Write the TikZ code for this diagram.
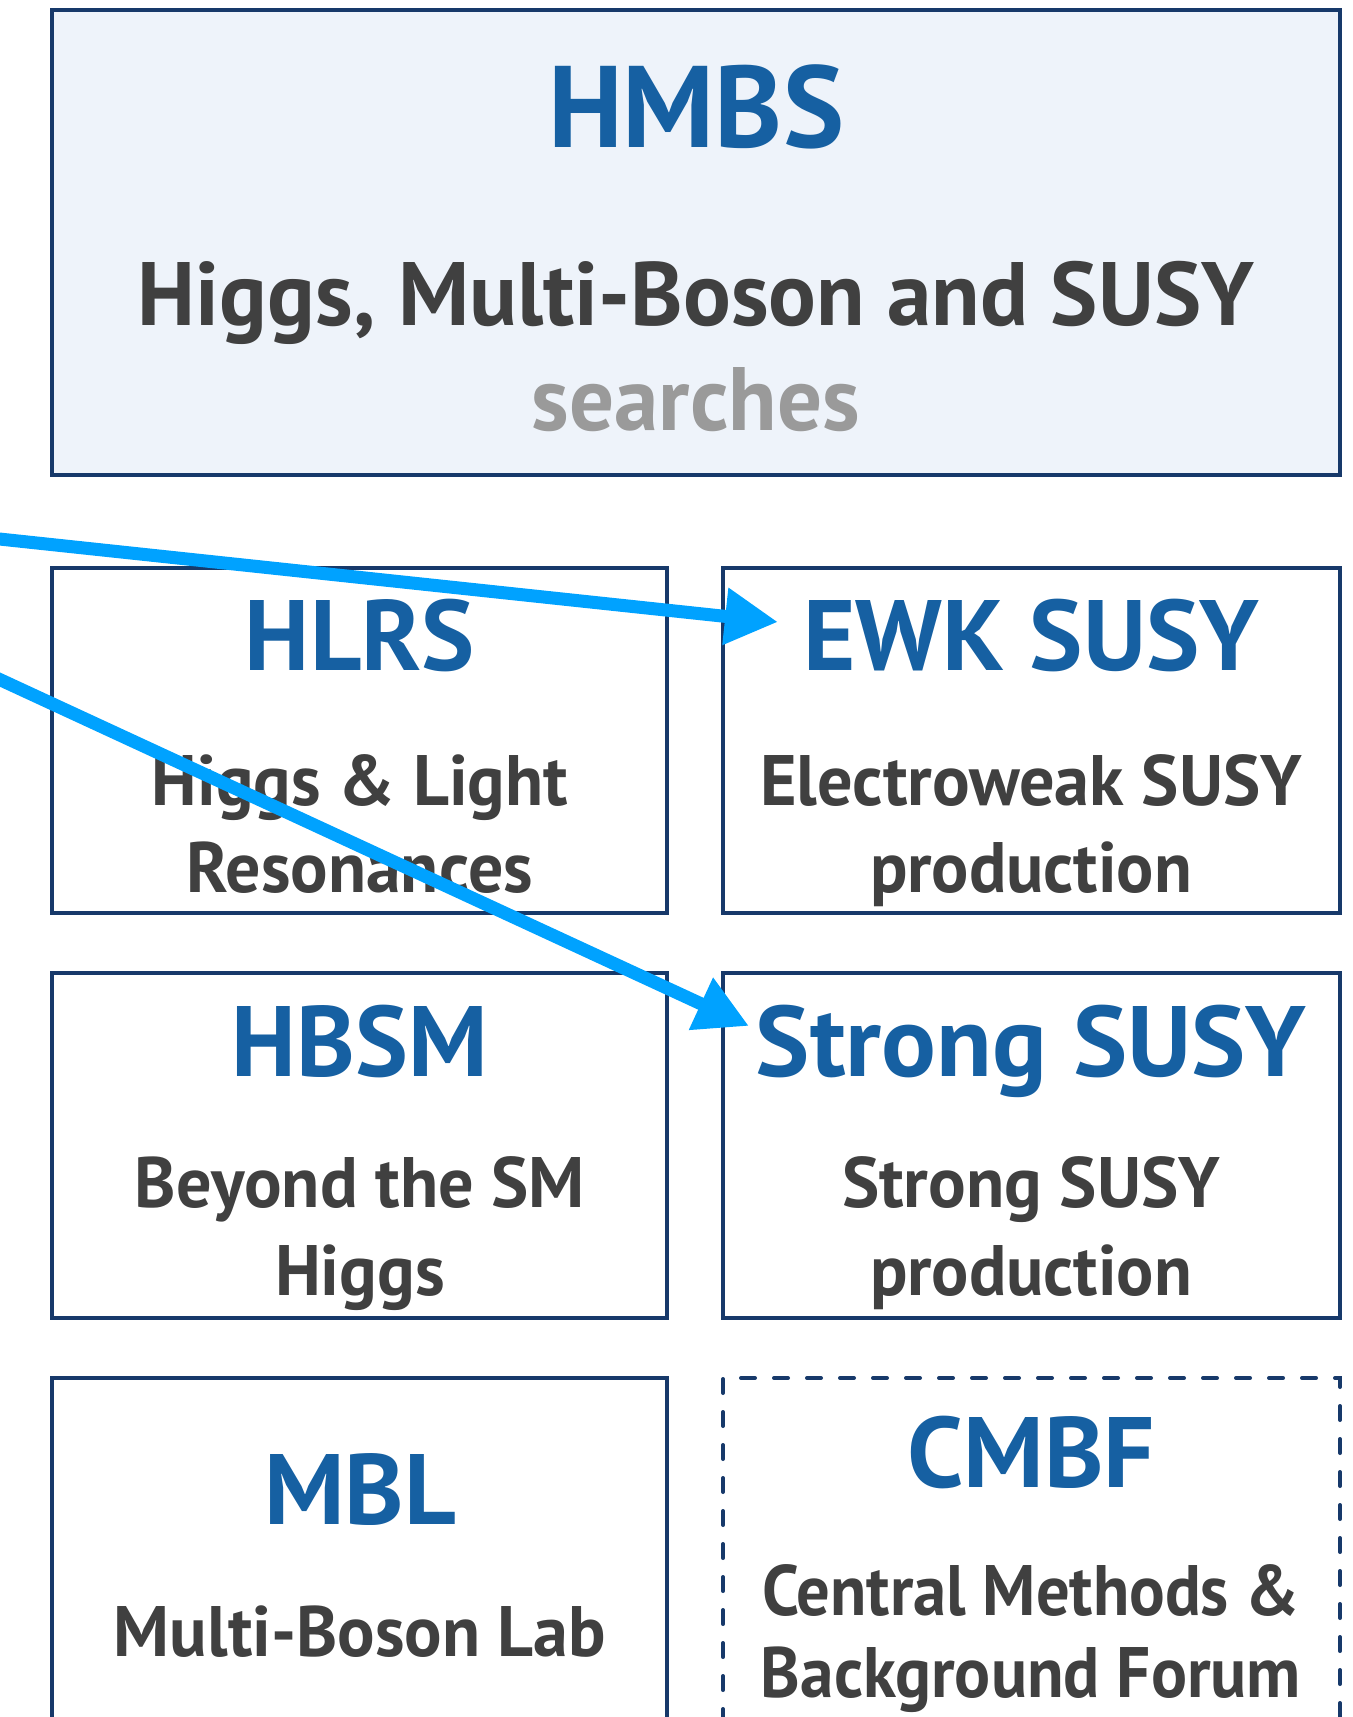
\documentclass[tikz,border=0pt]{standalone}
\usepackage{fontspec}
\setmainfont{PT Sans}
\usetikzlibrary{arrows.meta,fit}

\definecolor{navy}{HTML}{17396A}
\definecolor{titleblue}{HTML}{1660A2}
\definecolor{darktext}{HTML}{404040}
\definecolor{softgray}{HTML}{9A9A9A}
\definecolor{panelfill}{HTML}{EEF3FA}
\definecolor{linkblue}{HTML}{00A2FF}

% squeeze a line of text to a given width, keeping its height
\newcommand\fitw[2]{\resizebox{#1}{\height}{#2}}

\tikzset{
  group/.style={draw=navy, line width=2pt, inner sep=0pt},
  dashgroup/.style={group, line cap=round, dash pattern=on 7pt off 9.5pt},
  headline/.style={anchor=base, inner sep=0pt, text=titleblue,
    font=\fontsize{58}{70}\selectfont\bfseries},
  subline/.style={anchor=base, inner sep=0pt, text=darktext,
    font=\fontsize{45}{54}\selectfont\bfseries},
  title/.style={anchor=base, inner sep=0pt, text=titleblue,
    font=\fontsize{50}{60}\selectfont\bfseries},
  body/.style={anchor=base, inner sep=0pt, text=darktext,
    font=\fontsize{35.7}{43}\selectfont\bfseries},
  link/.style={draw=linkblue, line width=6.5pt,
    -{Triangle[length=26.5pt,width=27pt]}}
}

\begin{document}
\begin{tikzpicture}[x=0.5pt, y=-0.5pt]
\useasboundingbox (0,0) rectangle (1353,1717);

% top panel
\node[group, fill=panelfill, fit={(52,10) (1340,475)}] (hmbsbox) {};
\node[headline] (hmbs) at (696,148) {\fitw{148pt}{HMBS}};
\node[subline] (hmbsline) at (696,326) {\fitw{558pt}{Higgs, Multi-Boson and SUSY}};
\node[subline, text=softgray] (hmbssearch) at (696,430) {\fitw{164pt}{searches}};

% second row
\node[group, fit={(52,568) (667,913)}] (hlrsbox) {};
\node[title] (hlrs) at (360,670) {\fitw{115pt}{HLRS}};
\node[body] (hlrsa) at (360,805) {\fitw{208pt}{Higgs \& Light}};
\node[body] (hlrsb) at (360,892) {\fitw{173pt}{Resonances}};

\node[group, fit={(723,568) (1340,913)}] (ewkbox) {};
\node[title] (ewk) at (1031,670) {\fitw{228pt}{EWK SUSY}};
\node[body] (ewka) at (1031,805) {\fitw{271pt}{Electroweak SUSY}};
\node[body] (ewkb) at (1031,892) {\fitw{161pt}{production}};

% third row
\node[group, fit={(52,973) (667,1318)}] (hbsmbox) {};
\node[title] (hbsm) at (360,1076) {\fitw{128pt}{HBSM}};
\node[body] (hbsma) at (360,1207) {\fitw{225pt}{Beyond the SM}};
\node[body] (hbsmb) at (360,1295) {\fitw{85pt}{Higgs}};

\node[group, fit={(723,973) (1340,1318)}] (strongbox) {};
\node[title] (strong) at (1031,1076) {\fitw{275pt}{Strong SUSY}};
\node[body] (stronga) at (1031,1207) {\fitw{189pt}{Strong SUSY}};
\node[body] (strongb) at (1031,1295) {\fitw{161pt}{production}};

% fourth row
\node[group, fit={(52,1378) (667,1760)}] (mblbox) {};
\node[title] (mbl) at (360,1524) {\fitw{96pt}{MBL}};
\node[body] (mbla) at (360,1656) {\fitw{246pt}{Multi-Boson Lab}};

\node[dashgroup, fit={(723,1378) (1340,1760)}] (cmbfbox) {};
\node[title] (cmbf) at (1031,1487) {\fitw{124pt}{CMBF}};
\node[body] (cmbfa) at (1031,1615) {\fitw{269pt}{Central Methods \&}};
\node[body] (cmbfb) at (1031,1697) {\fitw{270pt}{Background Forum}};

% incoming links from the left edge
\coordinate (srcewk) at (-10,538);
\coordinate (ewktip) at (778,622);
\coordinate (srcstrong) at (-10,675);
\coordinate (strongtip) at (749,1026);
\draw[link] (srcewk) -- (ewktip);
\draw[link] (srcstrong) -- (strongtip);
\end{tikzpicture}
\end{document}
